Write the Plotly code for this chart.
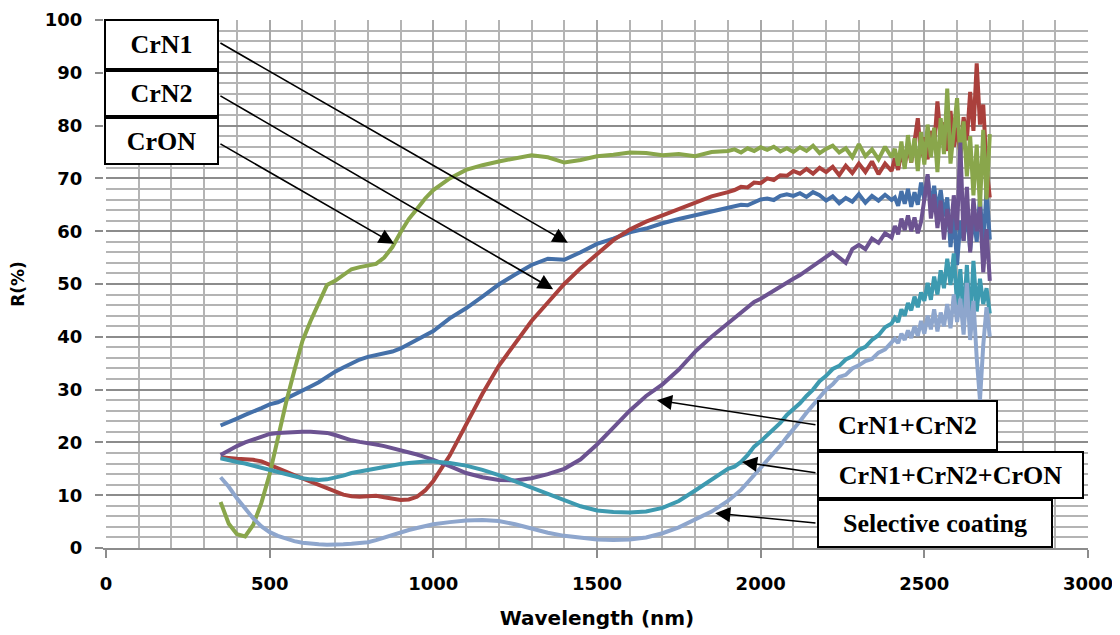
import plotly.graph_objects as go

# ---------------- data ----------------
wavelength = [
    350, 375, 400, 425, 450, 475, 500, 525, 550, 575, 600, 625, 650, 675, 700,
    725, 750, 775, 800, 825, 850, 875, 900, 925, 950, 975, 1000,
    1050, 1100, 1150, 1200, 1250, 1300, 1350, 1400, 1450, 1500, 1550, 1600,
    1650, 1700, 1750, 1800, 1850, 1900,
    1920, 1940, 1960, 1980, 2000, 2020, 2040, 2060, 2080, 2100, 2120, 2140,
    2160, 2180, 2200, 2220, 2240, 2260, 2280, 2300, 2320, 2340, 2360, 2380, 2400,
    2410, 2420, 2430, 2440, 2450, 2460, 2470, 2480, 2490, 2500, 2510, 2520,
    2530, 2540, 2550, 2560, 2570, 2580, 2590, 2600, 2610, 2620, 2630, 2640,
    2650, 2660, 2670, 2680, 2690, 2700,
]

crn1 = [
    23.2, 23.8, 24.5, 25.2, 25.8, 26.5, 27.2, 27.6, 28.3, 29.0, 29.8, 30.6, 31.4, 32.5, 33.4,
    34.2, 35.0, 35.7, 36.2, 36.5, 36.8, 37.2, 37.8, 38.6, 39.4, 40.3, 41.1,
    43.5, 45.4, 47.6, 49.9, 51.8, 53.6, 54.8, 54.6, 56.0, 57.6, 58.6, 59.8,
    60.5, 61.5, 62.3, 63.0, 63.6, 64.3,
    64.6, 65.0, 64.9, 65.5, 66.0, 66.2, 65.9, 66.7, 67.0, 66.7, 67.2, 66.5,
    67.4, 66.8, 65.8, 66.6, 65.3, 66.3, 65.6, 67.0, 65.4, 66.7, 65.8, 66.9, 65.9,
    66.4, 64.8, 67.6, 65.2, 68.0, 64.6, 67.4, 65.0, 69.2, 66.0, 70.4, 64.8,
    68.6, 63.6, 67.8, 62.8, 66.4, 57.0, 63.4, 53.6, 62.0, 58.2, 64.6, 56.4,
    63.0, 58.0, 66.4, 56.8, 68.0, 58.4,
]

crn2 = [
    17.2, 17.0, 16.9, 16.8, 16.7, 16.4, 15.7, 15.0, 14.4, 13.8, 13.2, 12.6, 12.0, 11.3, 10.7,
    10.1, 9.8, 9.7, 9.8, 9.9, 9.6, 9.3, 9.1, 9.2, 9.7, 10.9, 12.7,
    17.5, 23.5, 29.2, 34.5, 38.8, 43.0, 46.5, 50.0, 53.0, 55.6, 58.3, 60.3,
    61.8, 63.0, 64.2, 65.4, 66.6, 67.4,
    67.8, 68.4, 68.3, 69.2, 69.1, 70.0, 69.7, 70.6, 70.5, 71.4, 70.9, 71.8,
    70.9, 72.0, 71.2, 72.2, 70.6, 72.4, 71.0, 72.8, 71.2, 73.2, 70.8, 72.8, 71.4,
    73.8, 71.6, 75.0, 72.4, 76.2, 73.0, 77.0, 81.4, 74.2, 77.8, 73.6, 79.0,
    76.0, 84.6, 77.4, 80.6, 75.2, 82.8, 76.0, 79.6, 74.8, 81.6, 77.2, 86.4,
    79.0, 91.8, 80.2, 84.0, 72.0, 66.4,
]

cron = [
    8.7, 4.6, 2.6, 2.2, 4.4, 8.6, 14.0, 21.0, 27.5, 33.5, 39.2, 43.0, 46.4, 49.8, 50.6,
    51.8, 52.8, 53.2, 53.5, 53.8, 55.0, 57.0, 59.8, 62.3, 64.2, 66.2, 67.8,
    70.0, 71.6, 72.5, 73.2, 73.8, 74.4, 74.0, 73.0, 73.5, 74.2, 74.5, 74.9,
    74.8, 74.4, 74.6, 74.2, 75.0, 75.2,
    75.5, 74.9, 75.7, 75.2, 75.9, 75.4, 76.0, 75.1, 75.7, 75.0, 75.9, 75.2,
    76.2, 74.8, 75.6, 76.2, 74.9, 75.7, 74.0, 76.5, 74.2, 75.5, 73.6, 76.0, 74.0,
    75.6, 72.4, 77.0, 71.8, 78.2, 73.0, 77.6, 71.4, 78.8, 72.6, 80.2, 74.0,
    79.6, 71.2, 81.4, 74.6, 87.0, 72.8, 79.4, 85.2, 73.6, 80.8, 70.4, 78.0,
    66.8, 76.4, 64.6, 79.2, 66.0, 78.4,
]

crn1_crn2 = [
    17.6, 18.5, 19.3, 20.0, 20.6, 21.2, 21.6, 21.8, 21.9, 22.0, 22.0, 22.0, 21.9, 21.8, 21.4,
    20.8, 20.4, 20.1, 19.9, 19.6, 19.3, 18.9, 18.6, 18.2, 17.7, 17.2, 16.7,
    15.5, 14.2, 13.4, 12.9, 12.8, 13.2, 14.0, 15.0, 16.8, 19.6, 22.8, 26.0,
    28.8, 31.0, 33.8, 37.2, 40.0, 42.6,
    43.6, 44.6, 45.6, 46.6, 47.2, 48.0, 48.7, 49.6, 50.4, 51.0, 51.7, 52.6,
    53.4, 54.3, 55.2, 56.0, 55.0, 54.0, 56.6, 57.4, 56.6, 58.6, 57.8, 59.6, 58.8,
    61.0, 59.4, 62.4, 60.2, 63.0, 60.0, 62.6, 59.6, 61.8, 66.0, 70.8, 62.4,
    67.0, 60.6, 65.8, 58.4, 64.2, 59.6, 66.8, 60.2, 76.8, 58.2, 68.4, 56.0,
    66.2, 60.0, 64.6, 52.2, 60.4, 50.6,
]

crn1_crn2_cron = [
    17.0, 16.6, 16.3, 16.0, 15.6, 15.2, 14.8, 14.3, 13.9, 13.5, 13.2, 13.0, 12.9, 13.0, 13.3,
    13.7, 14.2, 14.5, 14.8, 15.0, 15.3, 15.6, 15.9, 16.1, 16.3, 16.4, 16.4,
    16.1, 15.6, 14.8, 13.8, 12.6, 11.3, 10.1, 9.0, 7.9, 7.1, 6.8, 6.7,
    6.9, 7.6, 8.9, 10.9, 13.0, 15.0,
    15.4, 16.3, 17.6, 19.2, 20.2, 21.4, 22.7, 23.7, 25.2, 26.2, 27.4, 28.8,
    30.0, 31.6, 32.6, 33.9, 34.5, 35.7, 36.3, 37.5, 38.1, 39.4, 40.3, 41.8, 42.5,
    43.6, 42.8, 45.2, 44.0, 46.4, 45.0, 47.6, 45.6, 48.4, 46.8, 50.2, 47.0,
    51.4, 48.0, 52.6, 49.2, 54.8, 49.8, 55.8, 46.0, 52.8, 43.4, 53.6, 42.0,
    54.4, 44.8, 51.0, 46.2, 49.2, 44.4,
]

selective = [
    13.4, 11.6, 9.4, 7.4, 5.6, 4.1, 3.0, 2.3, 1.7, 1.3, 1.0, 0.8, 0.7, 0.6, 0.6,
    0.7, 0.8, 0.9, 1.1, 1.5, 2.0, 2.5, 2.9, 3.4, 3.8, 4.2, 4.5,
    4.9, 5.2, 5.3, 5.1, 4.5, 3.7, 2.9, 2.3, 1.9, 1.6, 1.5, 1.6,
    2.0, 2.8, 3.9, 5.4, 6.9, 8.9,
    10.0, 11.0, 12.4, 13.8, 15.0, 16.6, 17.8, 19.4, 21.0, 22.4, 24.0, 25.6,
    27.0, 28.4, 30.0, 31.0, 32.4, 32.8, 34.0, 34.6, 35.4, 35.8, 37.0, 37.6, 38.8,
    39.6, 38.8, 40.6, 39.4, 41.2, 39.8, 42.0, 40.2, 43.0, 40.6, 44.0, 41.4,
    45.2, 41.0, 44.6, 42.0, 46.2, 41.6, 48.0, 42.8, 47.2, 40.4, 50.2, 39.4,
    46.8, 36.0, 28.0, 38.4, 45.6, 40.0,
]

series_names = ["CrN1", "CrN2", "CrON", "CrN1+CrN2", "CrN1+CrN2+CrON", "Selective coating"]
series_values = [crn1, crn2, cron, crn1_crn2, crn1_crn2_cron, selective]
series_colors = ["#4470A9", "#AA403C", "#89A64B", "#6C5391", "#3D9AB0", "#8EA6CD"]

x_ticks = [0, 500, 1000, 1500, 2000, 2500, 3000]
y_ticks = [0, 10, 20, 30, 40, 50, 60, 70, 80, 90, 100]

# label boxes: (text, left px, top px, right px, bottom px) in window pixels
label_boxes = [
    ("CrN1", 104, 19, 219, 70),
    ("CrN2", 104, 70, 219, 117),
    ("CrON", 104, 117, 219, 165),
    ("CrN1+CrN2", 817, 400, 998, 451),
    ("CrN1+CrN2+CrON", 817, 451, 1084, 499),
    ("Selective coating", 817, 499, 1053, 548),
]
# arrows: (head x, head y, tail x, tail y) in data units
label_arrows = [
    (1411, 57.8, 345, 95.8),
    (1366, 49.0, 345, 85.8),
    (880, 57.6, 345, 76.7),
    (1683, 28.0, 2172, 23.3),
    (1943, 16.3, 2172, 14.2),
    (1861, 6.6, 2172, 4.7),
]

# ---------------- figure ----------------
# the page body has an 8 px margin, so the figure is 8 px smaller than the window
OFF = 8
W, H = 1120 - OFF, 635 - OFF
PL, PR, PT, PB = 106, 1088, 20, 548          # plot area in window pixels
ML, MT = PL - OFF, PT - OFF
MR, MB = W - (PR - OFF), H - (PB - OFF)
PW, PH = PR - PL, PB - PT

fig = go.Figure()
for name, vals, col in zip(series_names, series_values, series_colors):
    fig.add_trace(go.Scatter(x=wavelength, y=vals, mode="lines", name=name,
                             line=dict(color=col, width=4)))

def px_to_paper_x(px):
    return (px - PL) / PW

def px_to_paper_y(py):
    return (PB - py) / PH

annotations = []
for (hx, hy, tx, ty) in label_arrows:
    annotations.append(dict(x=hx, y=hy, xref="x", yref="y", ax=tx, ay=ty,
                            axref="x", ayref="y", text="", showarrow=True,
                            arrowhead=2, arrowsize=1.9, arrowwidth=1.6,
                            arrowcolor="black", standoff=0, startstandoff=0))
BW = 2
for (txt, l, t, r, b) in label_boxes:
    annotations.append(dict(
        x=px_to_paper_x((l + r) / 2), y=px_to_paper_y((t + b) / 2),
        xref="paper", yref="paper", xanchor="center", yanchor="middle",
        text=txt, showarrow=False, width=(r - l) - 2 * BW, height=(b - t) - 2 * BW,
        align="center", valign="middle", borderpad=0, borderwidth=BW,
        bordercolor="black", bgcolor="white",
        font=dict(family="Liberation Serif", size=26, color="black", weight="bold"),
    ))

fig.update_layout(
    width=W, height=H,
    margin=dict(l=ML, r=MR, t=MT, b=MB, autoexpand=False),
    paper_bgcolor="white", plot_bgcolor="white",
    showlegend=False,
    annotations=annotations,
    xaxis=dict(
        range=[0, 3000], tickvals=x_ticks, ticks="outside", ticklen=8,
        tickwidth=2, tickcolor="#8c8c8c",
        showgrid=True, gridcolor="#a8a8a8", gridwidth=2,
        minor=dict(dtick=100, showgrid=True, gridcolor="#b4b4b4", gridwidth=1.5),
        showline=True, linecolor="#8c8c8c", linewidth=2, zeroline=False,
        tickfont=dict(family="DejaVu Sans", size=18, color="black", weight="bold"),
        ticklabelstandoff=10,
        title=dict(text="Wavelength (nm)", standoff=18,
                   font=dict(family="DejaVu Sans", size=20, color="black", weight="bold")),
    ),
    yaxis=dict(
        range=[0, 100], tickvals=y_ticks, ticks="outside", ticklen=8,
        tickwidth=2, tickcolor="#8c8c8c",
        showgrid=True, gridcolor="#8c8c8c", gridwidth=2,
        minor=dict(dtick=2, showgrid=True, gridcolor="#b4b4b4", gridwidth=1.5),
        # white axis line hides the grid line at x = 0 (the reference has none there)
        showline=True, linecolor="white", linewidth=3, zeroline=False,
        tickfont=dict(family="DejaVu Sans", size=18, color="black", weight="bold"),
        ticklabelstandoff=9,
        title=dict(text="R(%)", standoff=20,
                   font=dict(family="DejaVu Sans", size=17, color="black", weight="bold")),
    ),
)

fig.write_html("out.html")
